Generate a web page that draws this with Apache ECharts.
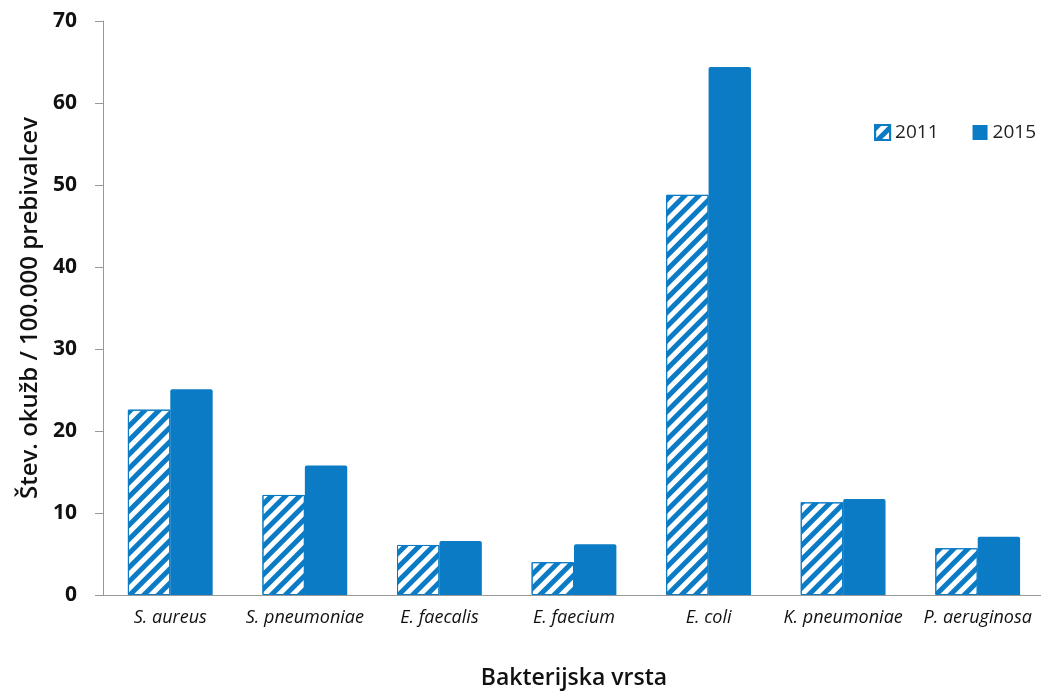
<!DOCTYPE html>
<html><head><meta charset="utf-8">
<script src="https://cdn.jsdelivr.net/npm/echarts@6/dist/echarts.min.js"></script>
<style>html,body{margin:0;padding:0;background:#fff}#c{width:1041px;height:693px}</style>
</head><body><div id="c"></div>
<script>
const categories = ['S. aureus','S. pneumoniae','E. faecalis','E. faecium','E. coli','K. pneumoniae','P. aeruginosa'];
const values2011 = [22.6, 12.2, 6.1, 4.0, 48.8, 11.3, 5.7];
const values2015 = [25.1, 15.8, 6.6, 6.2, 64.4, 11.7, 7.1];
const seriesNames = ['2011','2015'];
const yTicks = [0,10,20,30,40,50,60,70];

const blue = '#0a7bc4';
const chart = echarts.init(document.getElementById('c'));
chart.setOption({
  animation:false,
  backgroundColor:'#fff',
  legend:{
    orient:'horizontal', right:0, top:118, itemWidth:15, itemHeight:15, itemGap:34,
    icon:'rect',
    textStyle:{fontFamily:'Open Sans', fontSize:19, color:'#222'},
    data:seriesNames
  },
  grid:{left:103, width:942, top:21, bottom:98, containLabel:false, outerBoundsMode:'none'},
  xAxis:{
    type:'category', data:categories,
    axisLine:{lineStyle:{color:'#999', width:1}},
    axisTick:{lineStyle:{color:'#999'}, length:6},
    axisLabel:{interval:0, hideOverlap:false, fontFamily:'Open Sans', fontStyle:'italic', fontSize:18, color:'#111', margin:14},
    name:'Bakterijska vrsta', nameLocation:'middle', nameGap:72,
    nameTextStyle:{fontFamily:'Open Sans', fontWeight:600, fontSize:23, color:'#111'}
  },
  yAxis:{
    type:'value', min:0, max:70, interval:10,
    axisLine:{show:true, lineStyle:{color:'#999'}},
    axisTick:{show:true, length:8, lineStyle:{color:'#999'}},
    splitLine:{show:false},
    axisLabel:{fontFamily:'Open Sans', fontWeight:'bold', fontSize:21, color:'#111', margin:26,
      formatter:v=>yTicks.includes(v)?String(v):''},
    name:'Štev. okužb / 100.000 prebivalcev', nameLocation:'middle', nameGap:58,
    nameTextStyle:{fontFamily:'Open Sans', fontWeight:600, fontSize:24, color:'#111'}
  },
  series:[
    {name:seriesNames[0], type:'bar', data:values2011, barGap:'0%', barCategoryGap:'37%',
     itemStyle:{color:'#fff', borderColor:blue, borderWidth:1,
       decal:{symbol:'rect', color:blue, dashArrayX:[1,0], dashArrayY:[5,5], rotation:-Math.PI/4, symbolSize:1}}},
    {name:seriesNames[1], type:'bar', data:values2015, barGap:'0%', barCategoryGap:'37%',
     itemStyle:{color:blue, borderRadius:[2,2,0,0]}}
  ]
});
</script></body></html>
